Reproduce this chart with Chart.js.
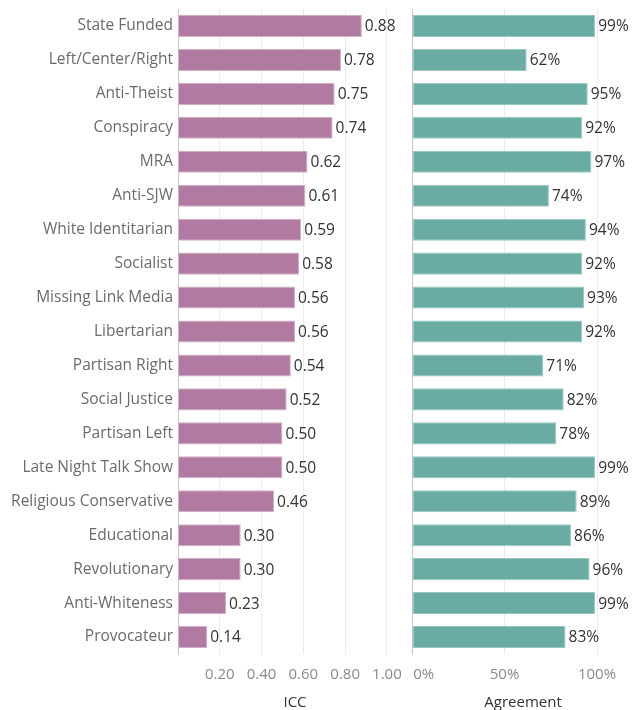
<!DOCTYPE html>
<html>
<head>
<meta charset="utf-8">
<script src="https://cdn.jsdelivr.net/npm/chart.js@4/dist/chart.umd.min.js"></script>
<style>
  html, body { margin: 0; padding: 0; background: #fff; }
  #wrap { position: relative; width: 634px; height: 710px; }
  .pane { position: absolute; top: 0; height: 710px; }
</style>
</head>
<body>
<div id="wrap">
  <div class="pane" style="left:0;width:412px"><canvas id="iccChart"></canvas></div>
  <div class="pane" style="left:400px;width:234px"><canvas id="agreeChart"></canvas></div>
</div>
<script>
(() => {
  'use strict';

  const categories = [
    'State Funded', 'Left/Center/Right', 'Anti-Theist', 'Conspiracy', 'MRA', 'Anti-SJW',
    'White Identitarian', 'Socialist', 'Missing Link Media', 'Libertarian', 'Partisan Right',
    'Social Justice', 'Partisan Left', 'Late Night Talk Show', 'Religious Conservative',
    'Educational', 'Revolutionary', 'Anti-Whiteness', 'Provocateur'
  ];
  const iccValues = [0.88, 0.78, 0.75, 0.74, 0.62, 0.61, 0.59, 0.58, 0.56, 0.56, 0.54, 0.52, 0.50, 0.50, 0.46, 0.30, 0.30, 0.23, 0.14];
  const agreementValues = [99, 62, 95, 92, 97, 74, 94, 92, 93, 92, 71, 82, 78, 99, 89, 86, 96, 99, 83];
  const iccTicks = [0.2, 0.4, 0.6, 0.8, 1.0];
  const agreementTicks = [0, 50, 100];

  const FONT = '"Open Sans"';

  // writes the value at the end of each bar
  const valueLabels = fmt => ({
    id: 'valueLabels',
    afterDatasetsDraw(chart) {
      const {ctx} = chart;
      const meta = chart.getDatasetMeta(0);
      ctx.save();
      ctx.font = `15.5px ${FONT}`;
      ctx.fillStyle = '#333';
      ctx.textAlign = 'left';
      ctx.textBaseline = 'middle';
      meta.data.forEach((bar, i) => {
        ctx.fillText(fmt(chart.data.datasets[0].data[i]), bar.x + 3, bar.y + 1);
      });
      ctx.restore();
    }
  });

  const noPad = scale => {
    scale.paddingLeft = 0;
    scale.paddingRight = 0;
    scale.paddingTop = 0;
    scale.paddingBottom = 0;
  };

  const createChart = (DOMID, DATA, opts) => {
    const ctx = document.getElementById(DOMID).getContext('2d');
    return new Chart(ctx, {
      type: 'bar',
      data: {
        labels: categories,
        datasets: [{
          data: DATA,
          backgroundColor: opts.color,
          borderColor: opts.border,
          borderWidth: 1,
          borderSkipped: false,
          categoryPercentage: 1,
          barPercentage: 0.65
        }]
      },
      options: {
        indexAxis: 'y',
        responsive: true,
        maintainAspectRatio: false,
        animation: false,
        layout: {padding: {top: 9, left: opts.padLeft, right: 0, bottom: 0}},
        plugins: {legend: {display: false}, tooltip: {enabled: false}},
        scales: {
          x: {
            min: 0,
            max: opts.max,
            afterBuildTicks: scale => {
              scale.ticks = opts.ticks.map(value => ({value}));
            },
            afterFit: scale => { scale.height = 56; noPad(scale); },
            grid: {
              drawTicks: false,
              color: c => (c.tick && c.tick.value === 0) ? 'rgba(0,0,0,0)' : '#ececec'
            },
            border: {display: false},
            ticks: {
              padding: 12,
              color: '#8a8a8a',
              font: {family: FONT, size: 15},
              maxRotation: 0,
              autoSkip: false,
              callback: opts.tickFmt
            },
            title: {
              display: true,
              text: opts.title,
              color: '#333',
              font: {family: FONT, size: 15},
              padding: {top: 4, bottom: -2}
            }
          },
          y: {
            afterFit: scale => { scale.width = opts.yWidth; noPad(scale); },
            grid: {display: false, drawTicks: false},
            border: {display: true, color: '#c8c8c8', dash: [2, 2]},
            ticks: {
              display: opts.showLabels,
              padding: 5,
              color: '#6b6b6b',
              font: {family: FONT, size: 15.5}
            }
          }
        }
      },
      plugins: [valueLabels(opts.valueFmt)]
    });
  };

  createChart('iccChart', iccValues, {
    color: '#b07aa1',
    border: '#d3aec8',
    max: 1.12,
    ticks: iccTicks,
    tickFmt: v => v.toFixed(2),
    valueFmt: v => v.toFixed(2),
    title: 'ICC',
    yWidth: 178,
    padLeft: 0,
    showLabels: true
  });

  createChart('agreeChart', agreementValues, {
    color: '#6aaba4',
    border: '#98c7c1',
    max: 120,
    ticks: agreementTicks,
    tickFmt: v => v === 0 ? '      0%' : v + '%',
    valueFmt: v => v + '%',
    title: 'Agreement',
    yWidth: 0,
    padLeft: 12,
    showLabels: false
  });
})();
</script>
</body>
</html>
